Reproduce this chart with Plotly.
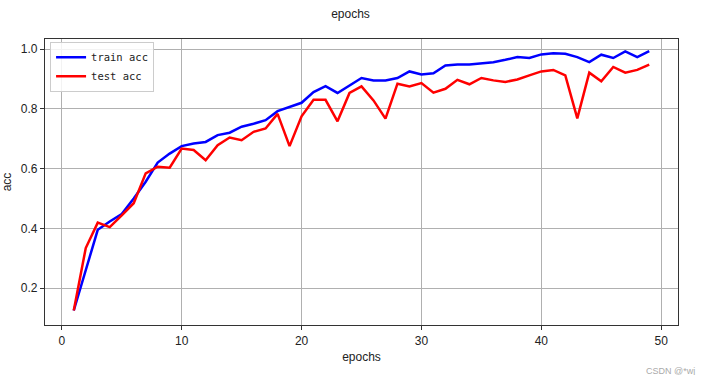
import plotly.graph_objects as go

epochs = list(range(1, 50))
train_acc = [0.125, 0.262, 0.395, 0.423, 0.448, 0.500, 0.556, 0.620, 0.650, 0.675,
             0.684, 0.689, 0.712, 0.720, 0.740, 0.750, 0.762, 0.792, 0.806, 0.820,
             0.856, 0.876, 0.853, 0.878, 0.903, 0.895, 0.895, 0.903, 0.925, 0.915,
             0.919, 0.945, 0.948, 0.948, 0.952, 0.956, 0.964, 0.973, 0.970, 0.982,
             0.986, 0.984, 0.973, 0.956, 0.981, 0.970, 0.992, 0.973, 0.993]
test_acc = [0.125, 0.334, 0.419, 0.404, 0.443, 0.484, 0.584, 0.606, 0.603, 0.667,
            0.662, 0.628, 0.678, 0.704, 0.695, 0.723, 0.734, 0.783, 0.675, 0.775,
            0.830, 0.830, 0.758, 0.853, 0.875, 0.828, 0.767, 0.884, 0.875, 0.886,
            0.854, 0.867, 0.897, 0.882, 0.903, 0.895, 0.890, 0.898, 0.912, 0.925,
            0.930, 0.912, 0.768, 0.921, 0.892, 0.940, 0.921, 0.930, 0.948]
x_ticks = [0, 10, 20, 30, 40, 50]
y_ticks = [0.2, 0.4, 0.6, 0.8, 1.0]
y_tick_labels = ["0.2", "0.4", "0.6", "0.8", "1.0"]

fig = go.Figure()
fig.add_trace(go.Scatter(x=epochs, y=train_acc, mode="lines", name="train acc",
                         line=dict(color="#0000ff", width=2.5)))
fig.add_trace(go.Scatter(x=epochs, y=test_acc, mode="lines", name="test acc",
                         line=dict(color="#ff0000", width=2.5)))

axis_common = dict(
    showline=True, linecolor="#333333", linewidth=1.2, mirror=True,
    showgrid=True, gridcolor="#b0b0b0", gridwidth=1,
    ticks="outside", ticklen=4, tickcolor="#333333",
    zeroline=False, automargin=False,
    tickfont=dict(family="Liberation Sans", size=12, color="#222222"),
)

fig.update_layout(
    width=701, height=375,
    margin=dict(l=45, r=23, t=39, b=50),
    paper_bgcolor="white", plot_bgcolor="white",
    title=dict(text="epochs", x=0.5, xanchor="center", y=0.975, yanchor="top",
               font=dict(family="Liberation Sans", size=12, color="#222222")),
    xaxis=dict(range=[-1.4, 51.4], tickvals=x_ticks,
               title=dict(text="epochs", standoff=6,
                          font=dict(family="Liberation Sans", size=12, color="#222222")),
               **axis_common),
    yaxis=dict(range=[0.0765, 1.0335], tickvals=y_ticks, ticktext=y_tick_labels,
               title=dict(text="acc", standoff=6,
                          font=dict(family="Liberation Sans", size=12, color="#222222")),
               **axis_common),
    legend=dict(x=0.008, y=0.99, xanchor="left", yanchor="top",
                bgcolor="rgba(255,255,255,0.85)", bordercolor="#cccccc", borderwidth=1,
                font=dict(family="DejaVu Sans Mono", size=10.5, color="#222222"),
                tracegroupgap=0, itemwidth=30),
    showlegend=True,
)

fig.add_annotation(text="CSDN @*wj", xref="paper", yref="paper", x=1.03, y=-0.135,
                   xanchor="right", yanchor="top", showarrow=False,
                   font=dict(family="Liberation Sans", size=9, color="#aaaaaa"))

fig.write_html("out.html")
